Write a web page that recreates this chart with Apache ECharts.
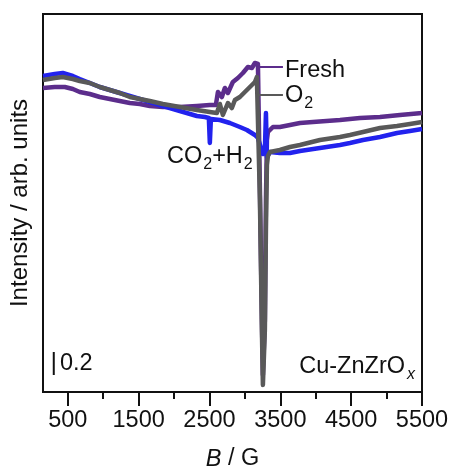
<!DOCTYPE html>
<html>
<head>
<meta charset="utf-8">
<script src="https://cdn.jsdelivr.net/npm/echarts@6/dist/echarts.min.js"></script>
<style>
html,body{margin:0;padding:0;background:#fff;}
#chart{width:451px;height:468px;}
</style>
</head>
<body>
<div id="chart"></div>
<script>
// Magnetic field (G) and intensity (arb. units)
var freshField = [150,316,458,571,669,811,952,1093,1234,1376,1517,1658,1842,2082,2322,2505,2590,2619,2675,2717,2760,2830,2901,2972,3042,3099,3141,3184,3212,3240,3254,3268,3282,3297,3311,3325,3396,3494,3636,3777,3960,4342,4624,4907,5189,5500];
var freshIntensity = [3.04,3.05,3.05,3.03,3.00,2.98,2.95,2.93,2.91,2.89,2.88,2.86,2.85,2.85,2.86,2.87,2.87,3.00,2.95,3.04,2.99,3.10,3.14,3.19,3.25,3.24,3.29,3.28,2.02,0.72,0.17,0.17,0.72,1.92,2.52,2.60,2.65,2.65,2.67,2.69,2.70,2.72,2.74,2.75,2.77,2.79];

var o2Field = [150,316,429,571,669,811,952,1093,1234,1376,1517,1658,1842,2082,2322,2505,2604,2647,2689,2760,2816,2859,2929,3028,3099,3141,3169,3184,3212,3240,3254,3268,3282,3297,3311,3325,3353,3494,3636,3777,4059,4342,4483,4667,4907,5147,5330,5500];
var o2Intensity = [3.12,3.14,3.15,3.13,3.11,3.09,3.05,3.02,2.99,2.95,2.93,2.91,2.88,2.85,2.82,2.80,2.79,2.88,2.77,2.89,2.84,2.92,2.95,3.02,3.07,3.10,3.15,3.17,1.92,0.62,0.07,0.07,0.62,1.62,2.27,2.36,2.40,2.42,2.45,2.47,2.52,2.55,2.57,2.60,2.64,2.66,2.68,2.70];

var co2h2Field = [150,316,429,571,669,811,952,1093,1234,1376,1517,1658,1842,2082,2322,2435,2491,2505,2520,2647,2788,2929,3028,3141,3184,3226,3254,3282,3297,3311,3353,3494,3636,3777,4059,4342,4483,4667,4907,5147,5330,5500];
var co2h2Intensity = [3.16,3.18,3.19,3.16,3.13,3.09,3.05,3.02,2.99,2.96,2.93,2.90,2.86,2.81,2.76,2.75,2.74,2.49,2.73,2.72,2.69,2.65,2.62,2.57,2.54,2.44,2.38,2.42,2.79,2.35,2.40,2.39,2.39,2.41,2.44,2.47,2.49,2.52,2.55,2.59,2.61,2.63];

var xTickLabels = [500,1500,2500,3500,4500,5500];
var xMinorTicks = [1000,2000,3000,4000,5000];

// annotation leader lines and scale bar (data coordinates)
var freshLeader = [[3184,3.25],[3537,3.25]];
var o2Leader = [[3184,2.97],[3537,2.97]];
var scaleBar = [[302,0.17],[302,0.40]];

var purple = '#5c2d8c';
var gray = '#595959';
var blue = '#2222ee';
var FONT = 'Liberation Sans, Arial, Helvetica, sans-serif';
var FS = 23.5;

function zip(a,b){ return a.map(function(v,i){ return [v,b[i]]; }); }

var chart = echarts.init(document.getElementById('chart'), null, {renderer:'canvas'});

function lineSeries(name, data, color, width, z){
  return {name:name, type:'line', data:data, showSymbol:false, symbol:'none',
    lineStyle:{color:color, width:width, join:'round'}, z:z, animation:false,
    xAxisIndex:0, yAxisIndex:0};
}

var option = {
  animation:false,
  grid:{left:43, right:29, top:14, bottom:76, containLabel:false, outerBoundsMode:'none',
    show:true, borderColor:'#111', borderWidth:2, backgroundColor:'transparent'},
  xAxis:[{
    type:'value', min:150, max:5500, position:'bottom',
    axisLine:{show:true, lineStyle:{color:'#111', width:2}},
    axisTick:{show:true, customValues:xTickLabels, length:14, lineStyle:{color:'#111', width:2}},
    axisLabel:{show:true, customValues:xTickLabels, fontSize:FS, color:'#111', fontFamily:FONT, margin:17,
      formatter:function(v){ return String(v); }},
    splitLine:{show:false},
    name:'{i|B} / G', nameLocation:'middle', nameGap:55,
    nameTextStyle:{fontSize:FS, color:'#111', fontFamily:FONT,
      rich:{i:{fontStyle:'italic', fontSize:FS, color:'#111', fontFamily:FONT}}}
  },{
    type:'value', min:150, max:5500, position:'bottom', offset:0,
    axisLine:{show:false},
    axisTick:{show:true, customValues:xMinorTicks, length:7, lineStyle:{color:'#111', width:2}},
    axisLabel:{show:false},
    splitLine:{show:false}
  }],
  yAxis:{
    type:'value', min:0, max:3.78,
    axisLine:{show:true, lineStyle:{color:'#111', width:2}},
    axisTick:{show:false}, axisLabel:{show:false}, splitLine:{show:false},
    name:'Intensity / arb. units', nameLocation:'middle', nameGap:11,
    nameTextStyle:{fontSize:24, color:'#111', fontFamily:FONT}
  },
  series:[
    lineSeries('Fresh', zip(freshField, freshIntensity), purple, 4.5, 2),
    lineSeries('CO2+H2', zip(co2h2Field, co2h2Intensity), blue, 4.5, 3),
    lineSeries('O2', zip(o2Field, o2Intensity), gray, 4.5, 4),
    lineSeries('freshLeader', freshLeader, purple, 2, 5),
    lineSeries('o2Leader', o2Leader, gray, 2, 5),
    lineSeries('scaleBar', scaleBar, '#111', 2, 5)
  ],
  graphic:[
    {type:'text', left:285, top:59, z:10, style:{text:'Fresh', fontSize:FS, fill:'#111', fontFamily:FONT}},
    {type:'text', left:285, top:84, z:10, style:{text:'{a|O}{s|2}', fill:'#111', fontFamily:FONT,
      rich:{a:{fontSize:FS, fontFamily:FONT, fill:'#111'}, s:{fontSize:16, fontFamily:FONT, fill:'#111', padding:[15,0,0,1]}}}},
    {type:'text', left:167, top:145, z:10, style:{text:'{a|CO}{s|2}{a|+H}{s|2}', fill:'#111', fontFamily:FONT,
      rich:{a:{fontSize:FS, fontFamily:FONT, fill:'#111'}, s:{fontSize:16, fontFamily:FONT, fill:'#111', padding:[15,0,0,1]}}}},
    {type:'text', right:36, top:355, z:10, style:{text:'{a|Cu-ZnZrO}{s|x}', fill:'#111', fontFamily:FONT,
      rich:{a:{fontSize:FS, fontFamily:FONT, fill:'#111'}, s:{fontSize:16, fontStyle:'italic', fontFamily:FONT, fill:'#111', padding:[15,0,0,2]}}}},
    {type:'text', left:60, top:352, z:10, style:{text:'0.2', fontSize:FS, fill:'#111', fontFamily:FONT}}
  ]
};
chart.setOption(option);
</script>
</body>
</html>
